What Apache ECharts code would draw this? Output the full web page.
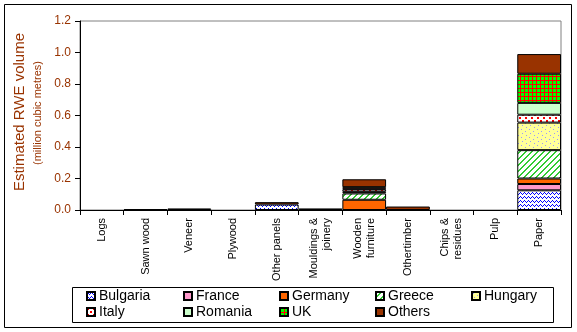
<!DOCTYPE html>
<html>
<head>
<meta charset="utf-8">
<script src="https://cdn.jsdelivr.net/npm/echarts@6/dist/echarts.min.js"></script>
<style>
  html, body { margin: 0; padding: 0; background: #fff; }
  #chart { width: 577px; height: 332px; }
</style>
</head>
<body>
<div id="chart"></div>
<script>
// Product categories along the x axis
const categories = ['Logs', 'Sawn wood', 'Veneer', 'Plywood', 'Other panels',
  'Mouldings &\njoinery', 'Wooden\nfurniture', 'Othertimber', 'Chips &\nresidues', 'Pulp', 'Paper'];

// Estimated RWE volume (million cubic metres) by origin, one value per category
const countries = ['Bulgaria', 'France', 'Germany', 'Greece', 'Hungary', 'Italy', 'Romania', 'UK', 'Others'];
const bulgaria = [0, 0, 0, 0, 0.035, 0, 0, 0, 0, 0, 0.125];
const france   = [0, 0, 0, 0, 0, 0, 0, 0, 0, 0, 0.04];
const germany  = [0, 0, 0, 0, 0, 0, 0.065, 0, 0, 0, 0.035];
const greece   = [0, 0, 0, 0, 0, 0, 0.04, 0, 0, 0, 0.18];
const hungary  = [0, 0, 0, 0, 0, 0, 0.01, 0, 0, 0, 0.175];
const italy    = [0, 0, 0.01, 0, 0, 0, 0.015, 0, 0, 0, 0.05];
const romania  = [0, 0, 0, 0, 0, 0, 0.005, 0, 0, 0, 0.075];
const uk       = [0, 0, 0, 0, 0, 0, 0.01, 0, 0, 0, 0.185];
const others   = [0, 0.005, 0, 0, 0.015, 0.01, 0.05, 0.022, 0, 0, 0.125];
const seriesValues = [bulgaria, france, germany, greece, hungary, italy, romania, uk, others];

// Value axis range
const yMin = 0, yMax = 1.2, yStep = 0.2;

const FONT = "'Liberation Sans', Arial, sans-serif";
const AXIS_RED = '#993300';

// Small bitmap fills for the hatched series
function tile(bg, fg, rows) {
  const h = rows.length, w = rows[0].length;
  const c = document.createElement('canvas');
  c.width = w; c.height = h;
  const g = c.getContext('2d');
  g.fillStyle = bg; g.fillRect(0, 0, w, h);
  g.fillStyle = fg;
  rows.forEach((r, y) => { for (let x = 0; x < w; x++) if (r[x] === 'x') g.fillRect(x, y, 1, 1); });
  return { image: c, repeat: 'repeat' };
}

const fills = {
  Bulgaria: tile('#ffffff', '#0000ff', [
    'x...x...',
    '.x.x.x.x',
    '..x...x.',
    '........'
  ]),
  France: '#ff99cc',
  Germany: '#ff6600',
  Greece: tile('#ffffff', '#33cc33', [
    '....xx',
    '...xx.',
    '..xx..',
    '.xx...',
    'xx....',
    'x....x'
  ]),
  Hungary: tile('#ffff99', '#9999ff', [
    '........',
    '.x......',
    '........',
    '.....x..',
    '........',
    '..x.....',
    '........',
    '......x.'
  ]),
  Italy: tile('#ffffff', '#ff0000', [
    'xx....',
    'xx....',
    '......',
    '...xx.',
    '...xx.',
    '......'
  ]),
  Romania: '#ccffcc',
  UK: tile('#00ff00', '#ff0000', [
    'xxxx',
    'x...',
    'x...',
    'x...'
  ]),
  Others: '#993300'
};

const series = countries.map((name, i) => ({
  name: name,
  type: 'bar',
  stack: 'total',
  barCategoryGap: '0%',
  barGap: '0%',
  itemStyle: { color: fills[name], borderColor: '#000', borderWidth: 1 },
  emphasis: { disabled: true },
  data: seriesValues[i].map(v => (v === 0 ? '-' : v))
}));

// Legend laid out as a 5-column grid inside a framed box
const legendCols = [86, 183, 279, 375, 471];
const legendRows = [289, 305];
const legends = countries.map((name, i) => ({
  data: [name],
  left: legendCols[i % 5],
  top: legendRows[Math.floor(i / 5)],
  padding: 0,
  itemWidth: 8,
  itemHeight: 8,
  icon: 'rect',
  selectedMode: false,
  textStyle: { fontFamily: FONT, fontSize: 14, color: '#000', padding: [0, 0, 0, -1] }
}));

const chart = echarts.init(document.getElementById('chart'), null, { renderer: 'canvas' });
chart.setOption({
  animation: false,
  backgroundColor: '#fff',
  grid: {
    left: 80, top: 21, right: 16, bottom: 122,
    show: true, borderColor: '#808080', borderWidth: 1, backgroundColor: 'transparent'
  },
  legend: legends,
  xAxis: {
    type: 'category',
    data: categories,
    axisLine: { lineStyle: { color: '#000', width: 1 } },
    axisTick: { show: true, length: 5, lineStyle: { color: '#000' } },
    axisLabel: {
      interval: 0, rotate: 90, margin: 8,
      fontFamily: FONT, fontSize: 11, color: '#000', lineHeight: 13
    },
    splitLine: { show: false }
  },
  yAxis: {
    type: 'value',
    min: yMin, max: yMax, interval: yStep,
    axisLine: { show: true, lineStyle: { color: '#000', width: 1 } },
    axisTick: { show: true, length: 5, lineStyle: { color: '#000' } },
    axisLabel: {
      margin: 9, fontFamily: FONT, fontSize: 12, color: AXIS_RED,
      formatter: v => v.toFixed(1)
    },
    splitLine: { show: false }
  },
  series: series,
  graphic: [
    { type: 'rect', shape: { x: 4.5, y: 4.5, width: 567, height: 323 },
      style: { fill: 'none', stroke: '#000', lineWidth: 1 }, silent: true, z: -1 },
    { type: 'rect', shape: { x: 72.5, y: 287.5, width: 481, height: 35 },
      style: { fill: 'none', stroke: '#000', lineWidth: 1 }, silent: true },
    { type: 'text', x: 20, y: 112, rotation: Math.PI / 2,
      style: { text: 'Estimated RWE volume', font: '15px ' + FONT, fill: AXIS_RED,
        align: 'center', verticalAlign: 'middle' }, silent: true },
    { type: 'text', x: 38, y: 113, rotation: Math.PI / 2,
      style: { text: '(million cubic metres)', font: '11px ' + FONT, fill: AXIS_RED,
        align: 'center', verticalAlign: 'middle' }, silent: true }
  ]
});
</script>
</body>
</html>
